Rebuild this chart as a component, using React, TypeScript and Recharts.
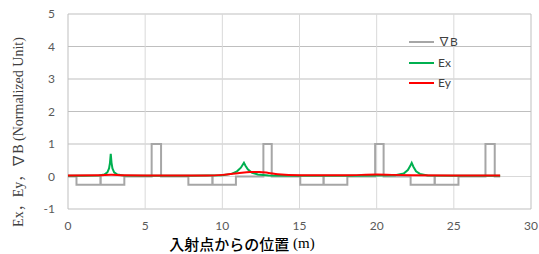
import React from "react";
import { LineChart, Line, XAxis, YAxis, CartesianGrid, ReferenceLine, Legend, Label } from "recharts";

// ∇B step profile (position in m, value)
const gradBPos = [0, 0.55, 0.55, 2.1, 2.1, 2.12, 2.12, 3.65, 3.65, 5.42, 5.42, 6.03, 6.03, 7.8, 7.8, 9.35, 9.35, 9.37, 9.37, 10.88, 10.88, 12.66, 12.66, 13.2, 13.2, 15.05, 15.05, 16.55, 16.55, 16.57, 16.57, 18.1, 18.1, 19.9, 19.9, 20.45, 20.45, 22.2, 22.2, 23.75, 23.75, 23.77, 23.77, 25.3, 25.3, 27.05, 27.05, 27.65, 27.65, 28];
const gradBVal = [0, 0, -0.25, -0.25, 0, 0, -0.25, -0.25, 0, 0, 1, 1, 0, 0, -0.25, -0.25, 0, 0, -0.25, -0.25, 0, 0, 1, 1, 0, 0, -0.25, -0.25, 0, 0, -0.25, -0.25, 0, 0, 1, 1, 0, 0, -0.25, -0.25, 0, 0, -0.25, -0.25, 0, 0, 1, 1, 0, 0];

// Ex
const exPos = [0, 1, 2, 2.35, 2.55, 2.66, 2.72, 2.77, 2.82, 2.88, 2.99, 3.2, 3.6, 5, 8, 10, 10.6, 10.95, 11.2, 11.32, 11.4, 11.5, 11.65, 11.9, 12.3, 13, 15, 18, 20, 21.2, 21.75, 22.02, 22.17, 22.27, 22.38, 22.55, 22.8, 23.3, 25, 28];
const exVal = [0.02, 0.02, 0.03, 0.06, 0.13, 0.25, 0.42, 0.7, 0.42, 0.25, 0.13, 0.06, 0.03, 0.02, 0.02, 0.04, 0.08, 0.16, 0.27, 0.36, 0.42, 0.33, 0.22, 0.12, 0.06, 0.03, 0.02, 0.02, 0.03, 0.04, 0.09, 0.2, 0.32, 0.42, 0.3, 0.16, 0.08, 0.03, 0.02, 0.02];

// Ey
const eyPos = [0, 2, 2.8, 3.6, 6, 9, 10, 11, 11.8, 12.4, 13, 13.6, 15, 18, 20, 21, 22.3, 25, 28];
const eyVal = [0.03, 0.035, 0.055, 0.035, 0.03, 0.03, 0.05, 0.1, 0.14, 0.14, 0.11, 0.07, 0.04, 0.04, 0.06, 0.05, 0.04, 0.03, 0.03];

const xTicks = [0, 5, 10, 15, 20, 25, 30];
const yTicks = [-1, 0, 1, 2, 3, 4, 5];
const legendOrder = ["∇B", "Ex", "Ey"];

const toPoints = (xs: number[], ys: number[]) => xs.map((x, i) => ({ x, y: ys[i] }));
const gradBData = toPoints(gradBPos, gradBVal);
const exData = toPoints(exPos, exVal);
const eyData = toPoints(eyPos, eyVal);

const tickStyle = { fontFamily: "Lato, 'Liberation Sans', sans-serif", fontSize: 12, fill: "#595959" };

const LegendContent = (props: any) => {
  const payload = [...(props.payload || [])].sort(
    (a: any, b: any) => legendOrder.indexOf(a.value) - legendOrder.indexOf(b.value)
  );
  return (
    <div style={{ display: "flex", flexDirection: "column" }}>
      {payload.map((p: any) => (
        <div key={p.value} style={{ display: "flex", alignItems: "center", height: 20.5 }}>
          <div style={{ width: 25, height: 2, background: p.color, marginRight: 4 }} />
          <span style={{ fontFamily: "Lato, 'Noto Sans CJK JP', sans-serif", fontSize: 12, color: "#404040", lineHeight: "14px" }}>{p.value}</span>
        </div>
      ))}
    </div>
  );
};

export default function App() {
  return (
    <div style={{ position: "absolute", left: 0, top: 0 }}>
      <LineChart width={539} height={254} margin={{ top: 14, right: 8, bottom: 15, left: 18 }}>
        <CartesianGrid vertical={false} stroke="#bfbfbf" />
        {[5, 10, 15, 20, 25].map((v) => (
          <ReferenceLine key={v} x={v} stroke="#d9d9d9" strokeWidth={1} />
        ))}
        <ReferenceLine y={0} stroke="#d9d9d9" />
        <ReferenceLine x={0} stroke="#bfbfbf" />
        <ReferenceLine x={30} stroke="#bfbfbf" />
        <XAxis
          type="number"
          dataKey="x"
          domain={[0, 30]}
          ticks={xTicks}
          axisLine={false}
          tickLine={false}
          tickSize={0}
          tickMargin={12}
          height={30}
          tick={tickStyle}
          allowDataOverflow
        >
          <Label
            content={() => (
              <text x={242} y={243} textAnchor="middle" dominantBaseline="central" fontFamily="'Noto Sans CJK JP', sans-serif" fontSize={15} fontWeight={500} fill="#000">
                入射点からの位置
                <tspan fontFamily="'Liberation Serif', serif" fontWeight={400}> (m)</tspan>
              </text>
            )}
          />
        </XAxis>
        <YAxis
          type="number"
          domain={[-1, 5]}
          ticks={yTicks}
          axisLine={false}
          tickLine={false}
          tickSize={0}
          tickMargin={13}
          width={50}
          tick={tickStyle}
          allowDataOverflow
        >
          <Label
            content={() => (
              <text x={18} y={132} transform="rotate(-90 18 132)" textAnchor="middle" dominantBaseline="central" fontFamily="'Liberation Serif', 'Noto Sans CJK JP', serif" fontSize={14} fill="#404040">
                Ex，Ey，∇B (Normalized Unit)
              </text>
            )}
          />
        </YAxis>
        <Legend
          layout="horizontal"
          verticalAlign="middle"
          align="center"
          content={<LegendContent />}
          wrapperStyle={{ position: "absolute", left: 409, top: 32, width: 80 }}
        />
        <Line data={gradBData} dataKey="y" name="∇B" type="linear" stroke="#a6a6a6" strokeWidth={2} dot={false} isAnimationActive={false} />
        <Line data={exData} dataKey="y" name="Ex" type="linear" stroke="#00b050" strokeWidth={2} dot={false} isAnimationActive={false} />
        <Line data={eyData} dataKey="y" name="Ey" type="monotone" stroke="#ff0000" strokeWidth={2} dot={false} isAnimationActive={false} />
      </LineChart>
    </div>
  );
}
